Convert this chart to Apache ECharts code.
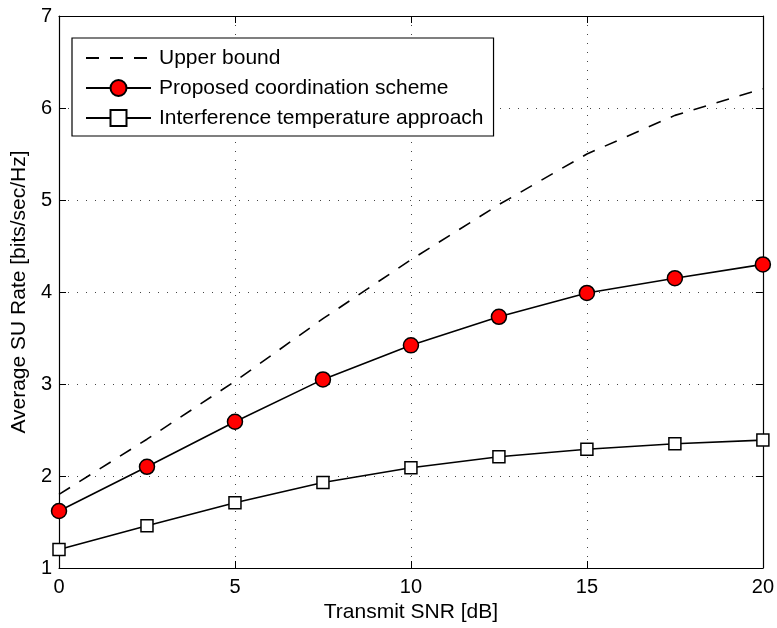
<!DOCTYPE html>
<html>
<head>
<meta charset="utf-8">
<script src="https://cdn.jsdelivr.net/npm/echarts@6/dist/echarts.min.js"></script>
<style>html,body{margin:0;padding:0;background:#fff;}#c{width:777px;height:628px;}</style>
</head>
<body>
<div id="c"></div>
<script>
const snr = [0, 2.5, 5, 7.5, 10, 12.5, 15, 17.5, 20];
const upperBound = [1.8, 2.4, 3.03, 3.71, 4.35, 4.95, 5.5, 5.92, 6.21];
const proposed = [1.62, 2.10, 2.59, 3.05, 3.42, 3.73, 3.99, 4.15, 4.30];
const interference = [1.20, 1.46, 1.71, 1.93, 2.09, 2.21, 2.29, 2.35, 2.39];
const seriesNames = ['Upper bound', 'Proposed coordination scheme', 'Interference temperature approach'];

const pairs = v => snr.map((x, i) => [x, v[i]]);
const font = 'Liberation Sans, Arial, sans-serif';

const chart = echarts.init(document.getElementById('c'), null, {renderer: 'canvas'});
const axisCommon = {
  axisLine: {show: true, onZero: false, lineStyle: {color: '#000', width: 1.2}},
  axisTick: {show: true, inside: true, length: 7, lineStyle: {color: '#000', width: 1}},
  minorTick: {show: false}
};
chart.setOption({
  animation: false,
  backgroundColor: '#fff',
  grid: {left: 59, right: 14, top: 16, bottom: 57, containLabel: false},
  legend: {
    orient: 'vertical',
    left: 72, top: 38,
    data: [
      {name: seriesNames[0], itemStyle: {opacity: 0, color: 'transparent', borderWidth: 0}},
      seriesNames[1],
      seriesNames[2]
    ],
    itemWidth: 65, itemHeight: 20, itemGap: 6,
    padding: [8, 10, 6, 13],
    borderColor: '#000', borderWidth: 1.2,
    backgroundColor: '#fff',
    textStyle: {fontFamily: font, fontSize: 21, lineHeight: 24, color: '#000', padding: [0, 0, 0, 3]}
  },
  xAxis: [
    Object.assign({
      type: 'value', min: 0, max: 20, interval: 5, position: 'bottom',
      name: 'Transmit SNR [dB]', nameLocation: 'middle', nameGap: 34,
      nameTextStyle: {fontFamily: font, fontSize: 21, color: '#000'},
      axisLabel: {fontFamily: font, fontSize: 20, color: '#000', margin: 9},
      splitLine: {show: true, lineStyle: {color: '#444', type: [1, 8], width: 1}}
    }, axisCommon),
    Object.assign({
      type: 'value', min: 0, max: 20, interval: 5, position: 'top',
      axisLabel: {show: false}, splitLine: {show: false}
    }, axisCommon)
  ],
  yAxis: [
    Object.assign({
      type: 'value', min: 1, max: 7, interval: 1, position: 'left',
      name: 'Average SU Rate [bits/sec/Hz]', nameLocation: 'middle', nameGap: 29,
      nameTextStyle: {fontFamily: font, fontSize: 21, color: '#000'},
      axisLabel: {fontFamily: font, fontSize: 20, color: '#000', margin: 7},
      splitLine: {show: true, lineStyle: {color: '#444', type: [1, 8], width: 1}}
    }, axisCommon),
    Object.assign({
      type: 'value', min: 1, max: 7, interval: 1, position: 'right',
      axisLabel: {show: false}, splitLine: {show: false}
    }, axisCommon)
  ],
  series: [
    {
      name: seriesNames[0], type: 'line', data: pairs(upperBound),
      symbol: 'none',
      lineStyle: {color: '#000', width: 1.6, type: [13, 11]},
      itemStyle: {color: '#000'}
    },
    {
      name: seriesNames[1], type: 'line', data: pairs(proposed),
      symbol: 'circle', symbolSize: 15,
      lineStyle: {color: '#000', width: 1.6},
      itemStyle: {color: '#ff0000', borderColor: '#000', borderWidth: 1.5}
    },
    {
      name: seriesNames[2], type: 'line', data: pairs(interference),
      symbol: 'rect', symbolSize: 12,
      lineStyle: {color: '#000', width: 1.6},
      itemStyle: {color: '#fff', borderColor: '#000', borderWidth: 1.5}
    }
  ]
});
</script>
</body>
</html>
